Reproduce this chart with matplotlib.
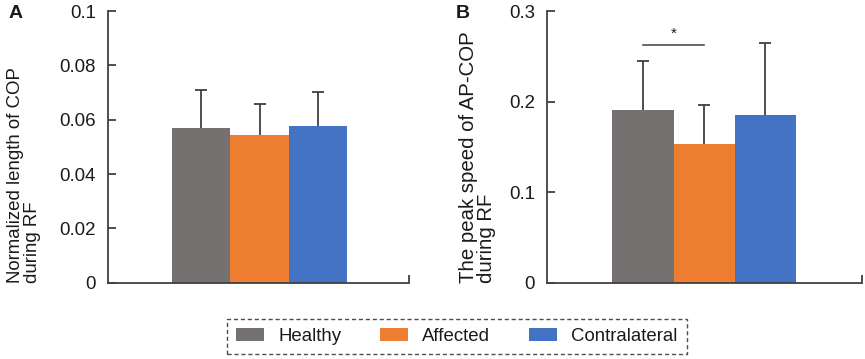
import matplotlib
matplotlib.use("Agg")
import matplotlib.pyplot as plt
from matplotlib.patches import Patch

plt.rcParams['font.family'] = ['Liberation Sans', 'DejaVu Sans']

groups = ["Healthy", "Affected", "Contralateral"]
colors = ["#767171", "#ED7D31", "#4472C4"]

a_means = [0.0569, 0.0544, 0.0578]
a_err = [0.0140, 0.0113, 0.0125]
a_ticks = [0, 0.02, 0.04, 0.06, 0.08, 0.1]
a_ticklabels = ["0", "0.02", "0.04", "0.06", "0.08", "0.1"]

b_means = [0.191, 0.153, 0.1855]
b_err = [0.054, 0.043, 0.0795]
b_ticks = [0, 0.1, 0.2, 0.3]
b_ticklabels = ["0", "0.1", "0.2", "0.3"]

sig_y = 0.2625
sig_text = "*"

W, H = 865, 359
fig = plt.figure(figsize=(W / 100, H / 100), dpi=100)

axcol = "#404040"
txtcol = "#1a1a1a"
fs = 13.4


def make_panel(left_px, right_px, means, errs, ticks, ticklabels, ymax, xlim):
    ax = fig.add_axes([left_px / W, (H - 282.7) / H, (right_px - left_px) / W, (282.7 - 11) / H])
    x = [-1, 0, 1]
    ax.bar(x, means, width=1.0, color=colors, edgecolor='none', zorder=2)
    _, caps, _ = ax.errorbar(x, means, yerr=[[0] * 3, errs], fmt='none', ecolor=axcol,
                             elinewidth=1.3, capsize=4.3, capthick=1.3, zorder=3)
    if len(caps) == 2:
        caps[0].set_visible(False)
    ax.set_ylim(0, ymax)
    ax.set_xlim(*xlim)
    ax.set_yticks(ticks)
    ax.set_yticklabels(ticklabels)
    ax.set_xticks([xlim[1]])
    ax.set_xticklabels([])
    for s in ['top', 'right']:
        ax.spines[s].set_visible(False)
    for s in ['left', 'bottom']:
        ax.spines[s].set_color(axcol)
        ax.spines[s].set_linewidth(1.3)
    ax.tick_params(axis='both', direction='in', length=5.5, width=1.3, color=axcol,
                   labelsize=fs, labelcolor=txtcol)
    ax.tick_params(axis='y', pad=8.6)
    return ax


axA = make_panel(107.7, 409, a_means, a_err, a_ticks, a_ticklabels, 0.1, (-2.603, 2.563))
axB = make_panel(546.7, 861.7, b_means, b_err, b_ticks, b_ticklabels, 0.3, (-2.572, 2.573))

# significance
axB.plot([-1, 0], [sig_y, sig_y], color=axcol, lw=1.1, zorder=3)
axB.text(-0.5, sig_y + 0.005, sig_text, ha='center', va='bottom', fontsize=11, color=txtcol)

# y labels (anchor = baseline of the last line)
fig.text(37.3 / W, (H - 283) / H, "Normalized length of COP\nduring RF", rotation=90,
         rotation_mode='anchor', ha='left', va='baseline', multialignment='left',
         fontsize=fs, color=txtcol, linespacing=0.95)
fig.text(493 / W, (H - 283) / H, "The peak speed of AP-COP\nduring RF", rotation=90,
         rotation_mode='anchor', ha='left', va='baseline', multialignment='left',
         fontsize=14.7, color=txtcol, linespacing=0.92)

# panel letters
fig.text(9 / W, (H - 18) / H, "A", fontsize=14, fontweight='bold', ha='left', va='baseline', color=txtcol)
fig.text(456 / W, (H - 18) / H, "B", fontsize=14, fontweight='bold', ha='left', va='baseline', color=txtcol)

# legend
handles = [Patch(facecolor=c, edgecolor='none') for c in colors]
leg = fig.legend(handles, groups, loc='center', bbox_to_anchor=(457 / W, (H - 336.5) / H),
                 ncol=3, fontsize=fs, frameon=True, fancybox=False, handlelength=1.5,
                 handleheight=0.67, handletextpad=0.75, columnspacing=2.1,
                 borderpad=0.5, labelcolor=txtcol)
fr = leg.get_frame()
fr.set_linestyle((0, (3, 2)))
fr.set_edgecolor('#222222')
fr.set_linewidth(1.0)

fig.savefig("out.png", dpi=100)
